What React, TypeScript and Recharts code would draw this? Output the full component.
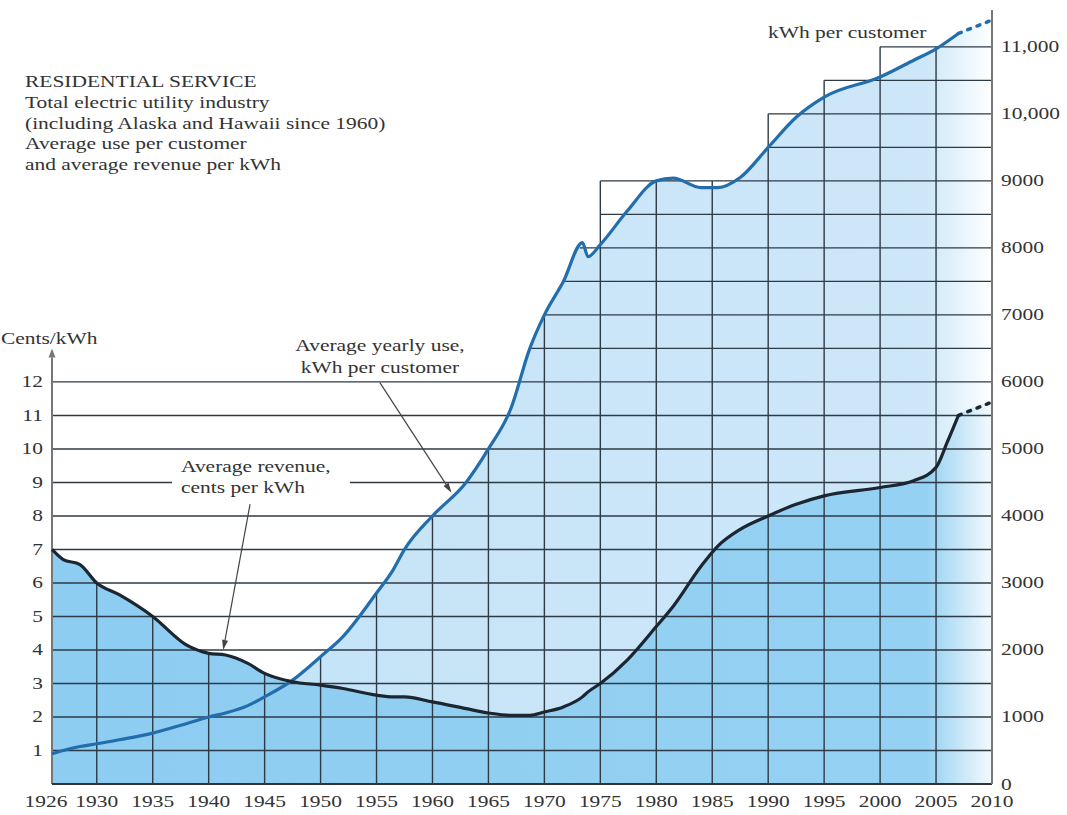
import { ComposedChart, Area, Line, XAxis, YAxis, ReferenceLine } from 'recharts'

// sample years (fractions where the curves bend sharply)
const years = [
  1926, 1927, 1928.5, 1930, 1932, 1935, 1938, 1940, 1941.5, 1943.5, 1945, 1947.5, 1950, 1952,
  1955, 1956.5, 1957.5, 1960, 1963, 1965, 1967, 1968.7, 1970, 1971.7, 1973.4, 1973.9, 1975,
  1977.4, 1980, 1981.5, 1984, 1985.5, 1987.5, 1990, 1992.5, 1995, 2000, 2003, 2005, 2006, 2007,
  2010,
]
const kwhPerCustomer = [
  450, 500, 560, 600, 660, 760, 900, 1000, 1060, 1170, 1300, 1550, 1900, 2200,
  2850, 3200, 3500, 4000, 4500, 5000, 5600, 6500, 7000, 7500, 8080, 7870, 8050,
  8550, 9000, 9040, 8900, 8900, 9050, 9500, 9950, 10250, 10550, 10800, 10970, 11080, 11200,
  11400,
]
const centsPerKwh = [
  7.0, 6.7, 6.55, 6.0, 5.65, 5.0, 4.15, 3.9, 3.85, 3.6, 3.3, 3.05, 2.95, 2.85,
  2.65, 2.6, 2.6, 2.45, 2.25, 2.12, 2.05, 2.05, 2.15, 2.3, 2.6, 2.75, 3.0,
  3.7, 4.7, 5.3, 6.5, 7.1, 7.6, 8.0, 8.35, 8.6, 8.85, 9.05, 9.45, 10.2, 11.0,
  11.4,
]
const projectedFrom = 2007

const yearTicks = [1926, 1930, 1935, 1940, 1945, 1950, 1955, 1960, 1965, 1970, 1975, 1980, 1985, 1990, 1995, 2000, 2005, 2010]
const centsTicks = [1, 2, 3, 4, 5, 6, 7, 8, 9, 10, 11, 12]
const kwhTicks = [0, 1000, 2000, 3000, 4000, 5000, 6000, 7000, 8000, 9000, 10000, 11000]

// grid: 5-year columns, stepped tops from 1975 on
const gridYears = [1930, 1935, 1940, 1945, 1950, 1955, 1960, 1965, 1970, 1975, 1980, 1985, 1990, 1995, 2000, 2005]
const stepYears = [1975, 1980, 1985, 1990, 1995, 2000, 2005]
const stepTops = [9000, 9000, 9000, 10000, 10500, 11000, 11000]
const gridLevels = Array.from({ length: 22 }, (_, i) => (i + 1) * 500)

const KWH_MAX = 11550
const KWH_PER_CENT = 500
const CENTS_MAX = KWH_MAX / KWH_PER_CENT
const FULL_WIDTH_LEVEL = 6000

const data = years.map((year, i) => ({
  year,
  kwhFill: kwhPerCustomer[i],
  centsFill: centsPerKwh[i],
  kwh: year <= projectedFrom ? kwhPerCustomer[i] : null,
  kwhTail: year >= projectedFrom ? kwhPerCustomer[i] : null,
  cents: year <= projectedFrom ? centsPerKwh[i] : null,
  centsTail: year >= projectedFrom ? centsPerKwh[i] : null,
}))

function interp(xs: number[], ys: number[], x: number) {
  for (let i = 1; i < xs.length; i++) {
    if (x <= xs[i]) return ys[i - 1] + ((x - xs[i - 1]) / (xs[i] - xs[i - 1])) * (ys[i] - ys[i - 1])
  }
  return ys[ys.length - 1]
}

function crossing(level: number) {
  for (let i = 1; i < years.length; i++) {
    if (kwhPerCustomer[i] >= level) {
      const a = kwhPerCustomer[i - 1]
      const b = kwhPerCustomer[i]
      return years[i - 1] + ((level - a) / (b - a)) * (years[i] - years[i - 1])
    }
  }
  return 2010
}

function verticalTop(year: number) {
  const i = stepYears.indexOf(year)
  if (i >= 0) return Math.max(stepTops[i], i > 0 ? stepTops[i - 1] : 0)
  return Math.max(interp(years, kwhPerCustomer, year), interp(years, centsPerKwh, year) * KWH_PER_CENT)
}

function levelStart(level: number) {
  if (level <= FULL_WIDTH_LEVEL) return 1926
  const c = crossing(level)
  if (c < stepYears[0]) return c
  return stepYears[stepTops.findIndex((t) => t >= level)]
}

const FONT = '"Liberation Serif", "Times New Roman", serif'
const STRETCH = 1.3
const TEXT = '#333'
const GRID = '#2e3a46'

function StretchText({ x, y, anchor, text }: { x: number; y: number; anchor: string; text: string }) {
  return (
    <text
      transform={`translate(${x},${y}) scale(${STRETCH},1)`}
      textAnchor={anchor as any}
      fontFamily={FONT}
      fontSize={16.5}
      fill={TEXT}
    >
      {text}
    </text>
  )
}

const fmtKwh = (v: number) => (v >= 10000 ? v.toLocaleString('en-US') : String(v))

function arrowShape(color: string, width: number, len: number, half: number) {
  return (p: any) => {
    const { x1, y1, x2, y2 } = p
    const a = Math.atan2(y2 - y1, x2 - x1)
    const bx = x2 - len * Math.cos(a)
    const by = y2 - len * Math.sin(a)
    const sx = half * Math.sin(a)
    const sy = half * Math.cos(a)
    return (
      <g>
        <line x1={x1} y1={y1} x2={bx} y2={by} stroke={color} strokeWidth={width} />
        <polygon points={`${x2},${y2} ${bx + sx},${by - sy} ${bx - sx},${by + sy}`} fill={color} />
      </g>
    )
  }
}

const textBlock = {
  position: 'absolute' as const,
  fontFamily: FONT,
  fontSize: 16.5,
  color: TEXT,
  whiteSpace: 'nowrap' as const,
}

function App() {
  return (
    <div style={{ position: 'absolute', left: 0, top: 0, width: 1067, height: 815, background: '#fff', overflow: 'hidden' }}>
      <ComposedChart width={1067} height={815} data={data} margin={{ top: 10, right: 0, bottom: 0, left: 0 }}>
        <defs>
          <linearGradient id="useFill" x1="0" y1="0" x2="1" y2="0">
            <stop offset="0%" stopColor="#c2e2f6" />
            <stop offset="60%" stopColor="#cae6f8" />
            <stop offset="93%" stopColor="#cde7f8" />
            <stop offset="100%" stopColor="#ffffff" />
          </linearGradient>
          <linearGradient id="centsFill" x1="0" y1="0" x2="1" y2="0">
            <stop offset="0%" stopColor="#8dcdf1" />
            <stop offset="93%" stopColor="#95d1f2" />
            <stop offset="100%" stopColor="#f4fafe" />
          </linearGradient>
        </defs>
        <XAxis
          type="number"
          dataKey="year"
          domain={[1926, 2010]}
          ticks={yearTicks}
          interval={0}
          height={31}
          tickSize={6}
          tickMargin={2}
          tickLine={false}
          axisLine={{ stroke: '#333', strokeWidth: 2 }}
          tick={(p: any) => (
            <StretchText
              x={p.payload.value === yearTicks[0] ? p.x - 6 : p.x}
              y={p.y + 15}
              anchor="middle"
              text={String(p.payload.value)}
            />
          )}
        />
        <YAxis
          yAxisId="c"
          type="number"
          domain={[0, CENTS_MAX]}
          ticks={centsTicks}
          interval={0}
          width={52}
          tickSize={6}
          tickMargin={2}
          tickLine={false}
          axisLine={false}
          tick={(p: any) => <StretchText x={p.x - 1} y={p.y + 5.5} anchor="end" text={String(p.payload.value)} />}
        />
        <YAxis
          yAxisId="k"
          orientation="right"
          type="number"
          domain={[0, KWH_MAX]}
          ticks={kwhTicks}
          interval={0}
          width={75}
          tickSize={6}
          tickMargin={2}
          tickLine={false}
          axisLine={{ stroke: '#777', strokeWidth: 2 }}
          tick={(p: any) => <StretchText x={p.x + 1} y={p.y + 5.5} anchor="start" text={fmtKwh(p.payload.value)} />}
        />

        <Area
          yAxisId="k"
          type="monotone"
          dataKey="kwhFill"
          stroke="none"
          fill="url(#useFill)"
          fillOpacity={1}
          isAnimationActive={false}
          activeDot={false}
        />
        <Area
          yAxisId="c"
          type="monotone"
          dataKey="centsFill"
          stroke="none"
          fill="url(#centsFill)"
          fillOpacity={1}
          isAnimationActive={false}
          activeDot={false}
        />

        {gridLevels.map((level) => (
          <ReferenceLine
            key={`h${level}`}
            yAxisId="k"
            segment={[
              { x: levelStart(level), y: level },
              { x: 2010, y: level },
            ]}
            stroke={GRID}
            strokeWidth={1.4}
          />
        ))}
        {gridYears.map((yr) => (
          <ReferenceLine
            key={`v${yr}`}
            yAxisId="k"
            segment={[
              { x: yr, y: 0 },
              { x: yr, y: verticalTop(yr) },
            ]}
            stroke={GRID}
            strokeWidth={1.4}
          />
        ))}

        <ReferenceLine
          yAxisId="c"
          segment={[
            { x: 1926, y: 0 },
            { x: 1926, y: 13 },
          ]}
          shape={arrowShape('#777', 2, 9, 3.5)}
        />
        <ReferenceLine
          yAxisId="k"
          segment={[
            { x: 1955.3, y: 5990 },
            { x: 1961.7, y: 4345 },
          ]}
          shape={arrowShape('#444', 1.2, 10, 3)}
        />
        <ReferenceLine
          yAxisId="c"
          segment={[
            { x: 1943.7, y: 8.35 },
            { x: 1941.3, y: 4.0 },
          ]}
          shape={arrowShape('#444', 1.2, 10, 3)}
        />

        <Line
          yAxisId="k"
          type="monotone"
          dataKey="kwh"
          stroke="#226ead"
          strokeWidth={3.2}
          dot={false}
          activeDot={false}
          isAnimationActive={false}
        />
        <Line
          yAxisId="k"
          type="monotone"
          dataKey="kwhTail"
          stroke="#226ead"
          strokeWidth={3.5}
          strokeDasharray="3 7"
          strokeLinecap="round"
          connectNulls
          dot={false}
          activeDot={false}
          isAnimationActive={false}
        />
        <Line
          yAxisId="c"
          type="monotone"
          dataKey="cents"
          stroke="#1b2631"
          strokeWidth={3.2}
          dot={false}
          activeDot={false}
          isAnimationActive={false}
        />
        <Line
          yAxisId="c"
          type="monotone"
          dataKey="centsTail"
          stroke="#1b2631"
          strokeWidth={3.5}
          strokeDasharray="3 7"
          strokeLinecap="round"
          connectNulls
          dot={false}
          activeDot={false}
          isAnimationActive={false}
        />
      </ComposedChart>

      <div style={{ ...textBlock, left: 25, top: 72, lineHeight: '20.8px', transform: `scaleX(${STRETCH})`, transformOrigin: 'left top' }}>
        <div>RESIDENTIAL SERVICE</div>
        <div>Total electric utility industry</div>
        <div>(including Alaska and Hawaii since 1960)</div>
        <div>Average use per customer</div>
        <div>and average revenue per kWh</div>
      </div>

      <div style={{ ...textBlock, left: 1, top: 329, lineHeight: '20.8px', transform: `scaleX(${STRETCH})`, transformOrigin: 'left top' }}>
        Cents/kWh
      </div>

      <div style={{ ...textBlock, left: 768, top: 23, lineHeight: '20.8px', transform: `scaleX(${STRETCH})`, transformOrigin: 'left top' }}>
        kWh per customer
      </div>

      <div style={{ ...textBlock, left: 230, width: 300, top: 334.5, lineHeight: '22px', textAlign: 'center', transform: `scaleX(${STRETCH})`, transformOrigin: 'center top' }}>
        <div>Average yearly use,</div>
        <div>kWh per customer</div>
      </div>

      <div style={{ position: 'absolute', left: 172, top: 456, width: 178, height: 42, background: '#fff' }} />
      <div style={{ ...textBlock, left: 181, top: 456, lineHeight: '21px', transform: `scaleX(${STRETCH})`, transformOrigin: 'left top' }}>
        <div>Average revenue,</div>
        <div>cents per kWh</div>
      </div>
    </div>
  )
}

export default App
